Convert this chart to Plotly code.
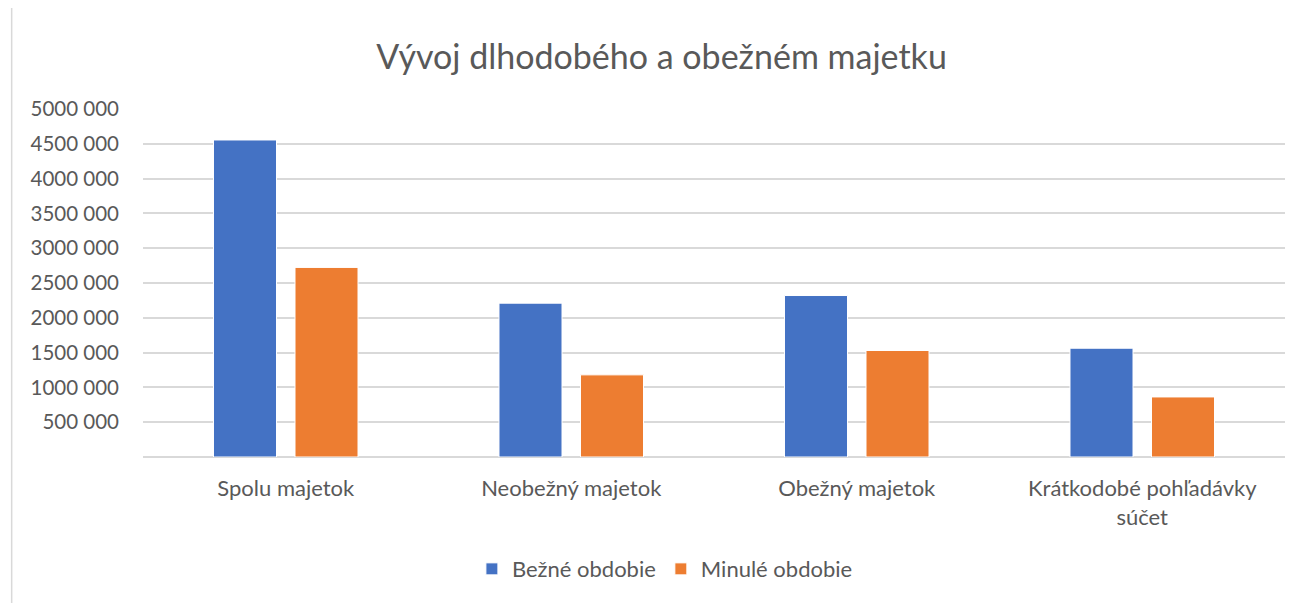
import plotly.graph_objects as go

categories = ["Spolu majetok", "Neobežný majetok", "Obežný majetok", "Krátkodobé pohľadávky<br>súčet"]
bezne = [4555000, 2210000, 2320000, 1563000]
minule = [2724000, 1180000, 1530000, 863000]
tick_vals = [500000, 1000000, 1500000, 2000000, 2500000, 3000000, 3500000, 4000000, 4500000, 5000000]
tick_text = ["500 000", "1000 000", "1500 000", "2000 000", "2500 000", "3000 000", "3500 000", "4000 000", "4500 000", "5000 000"]

font_family = "Lato, Open Sans, sans-serif"
txt = "#595959"

fig = go.Figure()
fig.add_trace(go.Bar(x=categories, y=bezne, name="Bežné obdobie", marker_color="#4472C4",
                     marker_line=dict(color="white", width=1)))
fig.add_trace(go.Bar(x=categories, y=minule, name="Minulé obdobie", marker_color="#ED7D31",
                     marker_line=dict(color="white", width=1)))

fig.update_layout(
    width=1289, height=595,
    paper_bgcolor="white", plot_bgcolor="white",
    margin=dict(l=135, r=12, t=101, b=146),
    barmode="group", bargap=0.429, bargroupgap=0.227,
    title=dict(text="Vývoj dlhodobého a obežném majetku", x=0.507, xanchor="center",
               y=0.918, yanchor="middle", font=dict(family=font_family, size=34, color=txt)),
    font=dict(family=font_family, size=20, color=txt),
    legend=dict(orientation="h", x=0.457, xanchor="center", y=-0.322, yanchor="middle",
                font=dict(size=22, color=txt), itemwidth=30, traceorder="normal"),
    xaxis=dict(showgrid=False, showline=False, ticks="", ticklabelstandoff=16,
               tickfont=dict(size=22, color=txt)),
    yaxis=dict(range=[0, 5000000], tickvals=tick_vals, ticktext=tick_text, showgrid=True,
               gridcolor="#d9d9d9", gridwidth=1.5, zeroline=True, zerolinecolor="#d9d9d9",
               zerolinewidth=1.5, showline=False, ticks="", ticklabelstandoff=23,
               tickfont=dict(size=20.5, color=txt)),
)
fig.add_shape(type="line", xref="paper", yref="paper", x0=-0.115, x1=-0.115, y0=-0.42, y1=1.29,
              line=dict(color="#d9d9d9", width=1.5))
fig.write_html("out.html")
